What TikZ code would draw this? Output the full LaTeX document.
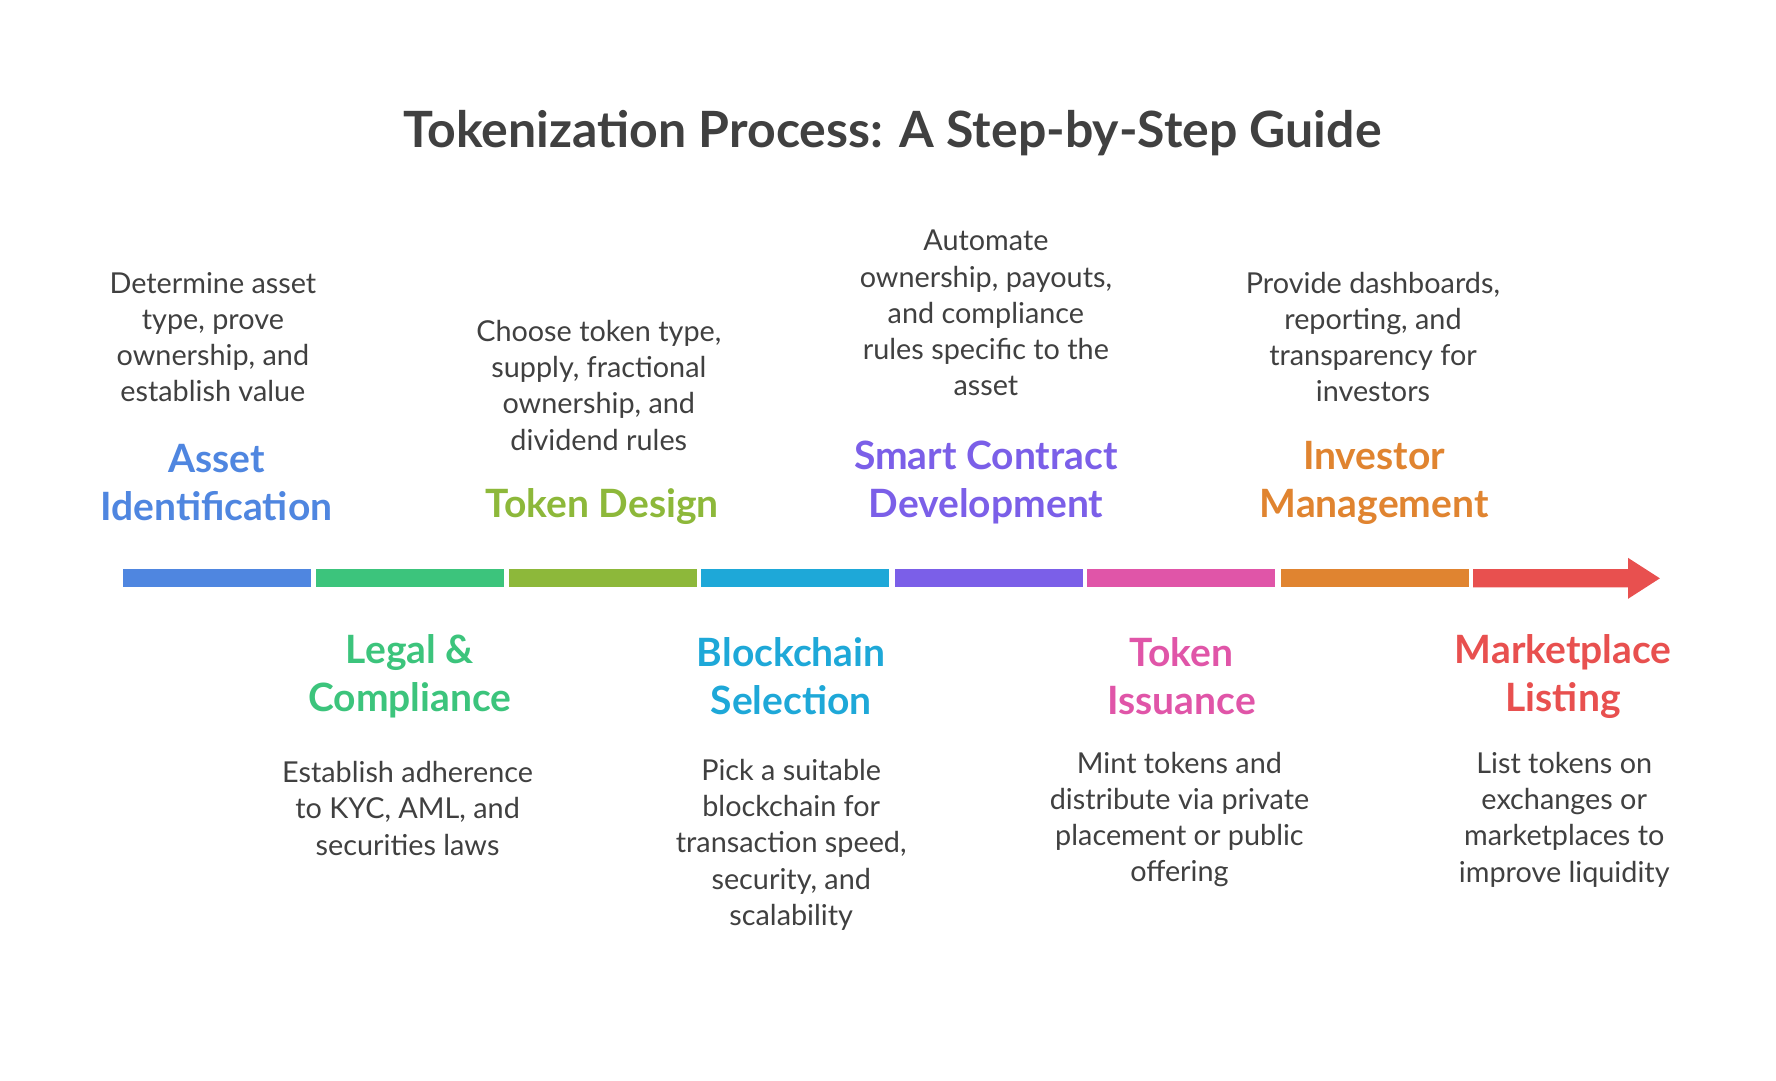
\documentclass[tikz,border=0pt]{standalone}
\usepackage{fontspec}
\setmainfont{Lato}
\begin{document}
\begin{tikzpicture}[x=0.02cm,y=-0.02cm,
  desc/.style={align=center,font=\fontsize{14.4}{18.1}\selectfont,text=black!75,inner sep=0pt},
  lab/.style={align=center,font=\fontsize{19.5}{23.8}\selectfont\bfseries,inner sep=0pt},
  seg/.style={draw=none,minimum width=3.3cm,minimum height=0.32cm,inner sep=0pt}]
\useasboundingbox (0,0) rectangle (1560,949);
\definecolor{cA}{HTML}{4F86E0}\definecolor{cB}{HTML}{3CC47C}\definecolor{cC}{HTML}{8DB83A}
\definecolor{cD}{HTML}{1EA8D8}\definecolor{cE}{HTML}{7B5FE8}\definecolor{cF}{HTML}{E055A8}
\definecolor{cG}{HTML}{E08430}\definecolor{cH}{HTML}{E8504F}
\node[font=\fontsize{25}{30}\selectfont\bfseries,text=black!75] (title) at (784,117) {Tokenization Process: A Step-by-Step Guide};
% bar
\node[seg,fill=cA] (s1) at (190.5,508) {};
\node[seg,fill=cB] (s2) at (360,508) {};
\node[seg,fill=cC] (s3) at (529.5,508) {};
\node[seg,fill=cD] (s4) at (698.5,508) {};
\node[seg,fill=cE] (s5) at (868.5,508) {};
\node[seg,fill=cF] (s6) at (1037.5,508) {};
\node[seg,fill=cG] (s7) at (1207.5,508) {};
\fill[cH] (1294,500) -- (1430,500) -- (1430,490) -- (1458,508) -- (1430,526) -- (1430,516) -- (1294,516) -- cycle;
\coordinate (s8) at (1376,508);
% top
\node[lab,text=cA] (l1) at (190,424) {Asset\\Identification};
\node[desc] (d1) at (187,296) {Determine asset\\type, prove\\ownership, and\\establish value};
\node[lab,text=cC] (l3) at (529,445) {Token Design};
\node[desc] (d3) at (526,338.5) {Choose token type,\\supply, fractional\\ownership, and\\dividend rules};
\node[lab,text=cE] (l5) at (866,424) {Smart Contract\\Development};
\node[desc] (d5) at (866,275) {Automate\\ownership, payouts,\\and compliance\\rules specific to the\\asset};
\node[lab,text=cG] (l7) at (1207,424) {Investor\\Management};
\node[desc] (d7) at (1206,296) {Provide dashboards,\\reporting, and\\transparency for\\investors};
% bottom
\node[lab,text=cB] (l2) at (360,594) {Legal \&\\Compliance};
\node[desc] (d2) at (358,710) {Establish adherence\\to KYC, AML, and\\securities laws};
\node[lab,text=cD] (l4) at (695,594) {Blockchain\\Selection};
\node[desc] (d4) at (695,742) {Pick a suitable\\blockchain for\\transaction speed,\\security, and\\scalability};
\node[lab,text=cF] (l6) at (1038,594) {Token\\Issuance};
\node[desc] (d6) at (1036,720) {Mint tokens and\\distribute via private\\placement or public\\offering};
\node[lab,text=cH] (l8) at (1373,594) {Marketplace\\Listing};
\node[desc] (d8) at (1374,720) {List tokens on\\exchanges or\\marketplaces to\\improve liquidity};
\end{tikzpicture}
\end{document}
